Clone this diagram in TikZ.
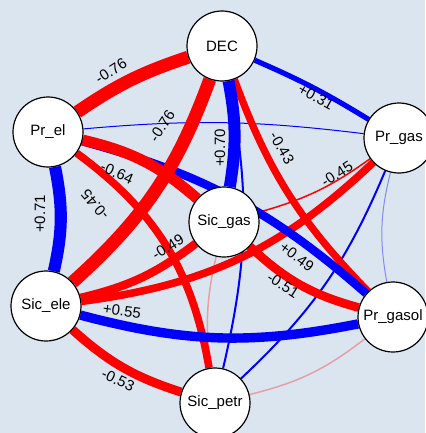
\documentclass[tikz,border=0pt]{standalone}
\usepackage{fontspec}
\setmainfont{Liberation Sans}
\usetikzlibrary{positioning}
\pgfdeclarelayer{background}
\pgfdeclarelayer{edgelayer}
\pgfsetlayers{background,edgelayer,main}
\definecolor{bgblue}{RGB}{219,229,240}
\tikzset{
		varnode/.style={circle, draw=black, line width=1.2pt, fill=white, minimum size=70pt, inner sep=0pt, font=\fontsize{15}{15}\selectfont},
		poscor/.style={draw=blue, line width=#1pt},
		negcor/.style={draw=red, line width=#1pt},
		wlabel/.style={font=\fontsize{15}{15}\selectfont, inner sep=0pt}
	}

\begin{document}
\begin{tikzpicture}[x=1pt, y=-1pt]
	\useasboundingbox (0,0) rectangle (425,433);
	\begin{pgfonlayer}{background}
		\fill[bgblue] (0,0) rectangle (425,433);
	\end{pgfonlayer}

	\node[varnode] (DEC)      at (222,46)  {DEC};
	\node[varnode] (Pr_el)    at (48,132)  {Pr\_el};
	\node[varnode] (Pr_gas)   at (399,138) {Pr\_gas};
	\node[varnode] (Sic_gas)  at (224,222) {Sic\_gas};
	\node[varnode] (Sic_ele)  at (46,306)  {Sic\_ele};
	\node[varnode] (Pr_gasol) at (393,317) {Pr\_gasol};
	\node[varnode] (Sic_petr) at (215,403) {Sic\_petr};

	\begin{pgfonlayer}{edgelayer}
		% weak ones first
		\path (Pr_gasol) edge [poscor=1, draw opacity=0.4, bend left=12] (Pr_gas);
		\path (Pr_gasol) edge [negcor=1.5, draw opacity=0.3, bend left=12] (Sic_petr);
		\path (Sic_petr) edge [negcor=1.5, draw opacity=0.3, bend left=10] (Sic_gas);
		\path (Pr_el)    edge [poscor=1, bend left=6] (Pr_gas);
		\path (Pr_gas)   edge [negcor=1.5, bend left=10] (Sic_gas);
		\path (DEC)      edge [poscor=2, bend left=12] (Sic_petr);
		\path (Pr_gas)   edge [poscor=2, bend left=12] (Sic_petr);
		% labelled ones
		\path (DEC)      edge [poscor=5.2, bend left=4]   (Pr_gas);
		\path (DEC)      edge [negcor=7.2, bend right=12] (Pr_gasol);
		\path (Pr_el)    edge [negcor=7.6, bend left=22]  (Sic_petr);
		\path (Pr_gas)   edge [negcor=7.6, bend left=18]  (Sic_ele);
		\path (Pr_el)    edge [poscor=8.4, bend left=13]  (Pr_gasol);
		\path (Sic_gas)  edge [negcor=8.4, bend left=12]  (Sic_ele);
		\path (Pr_gasol) edge [negcor=8.7, bend left=14]  (Sic_gas);
		\path (Sic_petr) edge [negcor=9, bend left=12]    (Sic_ele);
		\path (Pr_gasol) edge [poscor=9.4, bend left=13]  (Sic_ele);
		\path (Pr_el)    edge [negcor=10.9, bend left=14] (Sic_gas);
		\path (DEC)      edge [poscor=12, bend left=10]   (Sic_gas);
		\path (Pr_el)    edge [poscor=12.1, bend left=12] (Sic_ele);
		\path (Pr_el)    edge [negcor=13, bend left=8]    (DEC);
		\path (DEC)      edge [negcor=13, bend left=14]   (Sic_ele);
	\end{pgfonlayer}

	\node[wlabel, rotate=33]  (l_el_dec)     at (111,71)  {-0.76};
	\node[wlabel, rotate=-29] (l_dec_gas)    at (316,97)  {+0.31};
	\node[wlabel, rotate=90]  (l_dec_sgas)   at (220,148) {+0.70};
	\node[wlabel, rotate=57]  (l_dec_sele)   at (162,126) {-0.76};
	\node[wlabel, rotate=-60] (l_dec_gasol)  at (282,148) {-0.43};
	\node[wlabel, rotate=-24] (l_el_sgas)    at (117,173) {-0.64};
	\node[wlabel, rotate=130] (l_el_petr)    at (95,205)  {-0.45};
	\node[wlabel, rotate=90]  (l_el_sele)    at (40,214)  {+0.71};
	\node[wlabel, rotate=32]  (l_sgas_sele)  at (168,247) {-0.49};
	\node[wlabel, rotate=33]  (l_gas_sele)   at (337,174) {-0.45};
	\node[wlabel, rotate=-8]  (l_gasol_sele) at (122,311) {+0.55};
	\node[wlabel, rotate=-25] (l_petr_sele)  at (118,380) {-0.53};
	\node[wlabel, rotate=-37] (l_el_gasol)   at (297,257) {+0.49};
	\node[wlabel, rotate=-33] (l_gasol_sgas) at (283,285) {-0.51};
\end{tikzpicture}
\end{document}
